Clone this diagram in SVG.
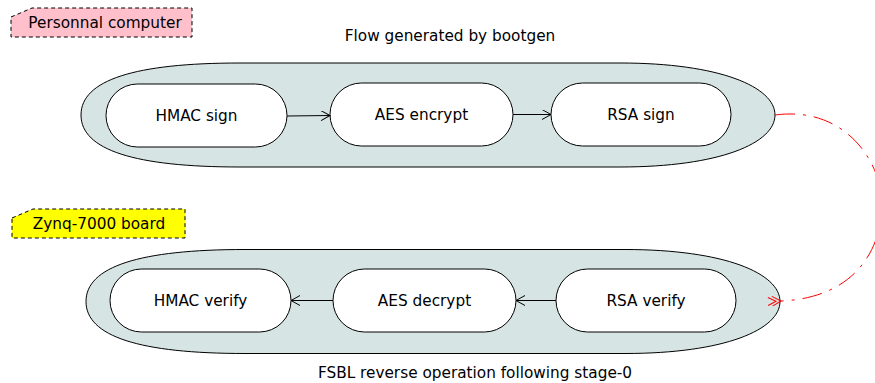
<svg xmlns="http://www.w3.org/2000/svg" width="875" height="383" viewBox="0 0 875 383">
<style>
text{font-family:"DejaVu Sans",sans-serif;font-size:15.3px;fill:#000;text-anchor:middle;dominant-baseline:central}
.cl{fill:#d6e4e3;stroke:#000;stroke-width:1}
.n{fill:#fff;stroke:#000;stroke-width:1}
.e{fill:none;stroke:#000;stroke-width:1}
.tag{stroke:#000;stroke-width:1;stroke-dasharray:4,3}
</style>
<defs>
<marker id="ah" markerWidth="12" markerHeight="12" refX="10" refY="5" orient="auto" markerUnits="userSpaceOnUse">
<path d="M1,0 L10,5 L1,10" fill="none" stroke="#000" stroke-width="1"/>
</marker>
<marker id="ahr" markerWidth="16" markerHeight="12" refX="1" refY="5" orient="auto" markerUnits="userSpaceOnUse">
<path d="M10,0 L1,5 L10,10 M14,1 L6,5 L14,9" fill="none" stroke="red" stroke-width="1"/>
</marker>
<path id="clshape" d="M81,115 C81,80 135,63 240,63 L620,63 C720,63 775,87 775,115 C775,143 720,167 620,167 L240,167 C135,167 81,150 81,115 Z"/>
</defs>
<g id="pc-tag">
<path class="tag" d="M11,17 L32,8 L192,8 L192,37 L11,37 Z" fill="#ffc0cb"/>
<text x="105" y="23">Personnal computer</text>
</g>
<g id="zynq-tag">
<path class="tag" d="M12,218 L33,209 L185,209 L185,238 L12,238 Z" fill="#ffff00"/>
<text x="99" y="224">Zynq-7000 board</text>
</g>
<g id="top-cluster">
<use href="#clshape" class="cl"/>
<text x="450" y="36">Flow generated by bootgen</text>
</g>
<g id="bottom-cluster">
<use href="#clshape" class="cl" transform="translate(5,186.5)"/>
<text x="475" y="373">FSBL reverse operation following stage-0</text>
</g>
<g id="hmac-sign"><rect class="n" x="106" y="84" width="181" height="63" rx="31.5"/><text x="196.5" y="115.5">HMAC sign</text></g>
<g id="aes-encrypt"><rect class="n" x="330" y="83" width="183" height="63" rx="31.5"/><text x="421.5" y="114.5">AES encrypt</text></g>
<g id="rsa-sign"><rect class="n" x="551" y="83" width="180" height="63" rx="31.5"/><text x="641" y="114.5">RSA sign</text></g>
<g id="hmac-verify"><rect class="n" x="110" y="269" width="181" height="63" rx="31.5"/><text x="200.5" y="300.5">HMAC verify</text></g>
<g id="aes-decrypt"><rect class="n" x="333" y="269" width="183" height="63" rx="31.5"/><text x="424.5" y="300.5">AES decrypt</text></g>
<g id="rsa-verify"><rect class="n" x="556" y="269" width="180" height="63" rx="31.5"/><text x="646" y="300.5">RSA verify</text></g>
<g id="connectors">
<path class="e" d="M287,116 L330,115.5" marker-end="url(#ah)"/>
<path class="e" d="M513,114.5 L551,114.5" marker-end="url(#ah)"/>
<path class="e" d="M556,300.5 L516,300.5" marker-end="url(#ah)"/>
<path class="e" d="M333,300.5 L291,300.5" marker-end="url(#ah)"/>
<path d="M775,115 C850,105 886,170 882,212 C878,256 850,298 781,301" fill="none" stroke="red" stroke-width="1" stroke-dasharray="20,8,3,8" marker-end="url(#ahr)"/>
</g>
</svg>
